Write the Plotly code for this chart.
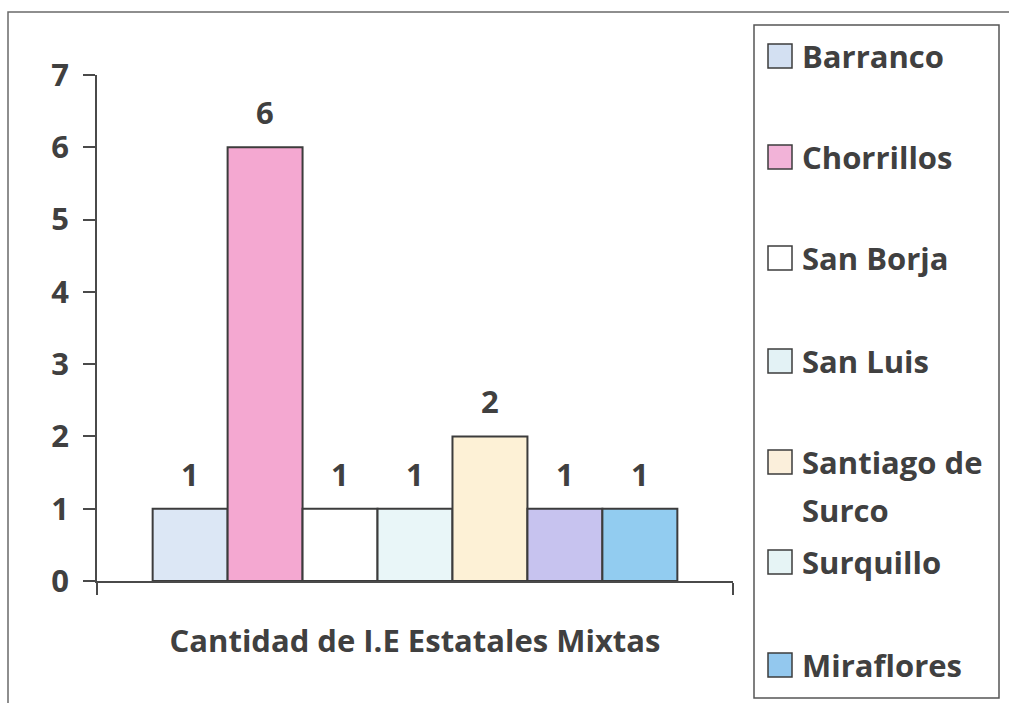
import plotly.graph_objects as go

# Data
group_label = "Cantidad de I.E Estatales Mixtas"
districts = ["Barranco", "Chorrillos", "San Borja", "San Luis",
             "Santiago de Surco", "Surquillo", "Miraflores"]
counts = [1, 6, 1, 1, 2, 1, 1]
bar_colors = ["#dce7f5", "#f4a8d1", "#ffffff", "#e9f6f8",
              "#fdf1d6", "#c7c3ef", "#92ccf0"]
swatch_colors = ["#d3e0f2", "#f2b3d8", "#ffffff", "#e3f2f5",
                 "#fbefdb", "#e6f4f5", "#93c8ee"]
y_ticks = [0, 1, 2, 3, 4, 5, 6, 7]

# Page / plot geometry (pixels)
W, H = 1009, 703
L, R, T, B = 97, 733, 75, 581
BARGAP = 0.175
TXT = "#404040"
LINE = "#4a4a4a"
FONT = "Open Sans"


def px_x(px):
    return (px - L) / (R - L)


def px_y(py):
    return (B - py) / (B - T)


fig = go.Figure()
for name, val, col in zip(districts, counts, bar_colors):
    fig.add_trace(go.Bar(
        x=[group_label], y=[val], name=name,
        marker=dict(color=col, line=dict(color="#3c3c3c", width=2)),
        showlegend=False,
    ))

# value labels above each bar
n = len(districts)
gw = 1 - BARGAP
annotations = []
for i, val in enumerate(counts):
    xc = -gw / 2 + (i + 0.5) * gw / n
    annotations.append(dict(
        x=xc, y=val, xref="x", yref="y", text=str(val), showarrow=False,
        yanchor="middle", yshift=35,
        font=dict(family=FONT, size=31, color=TXT, weight="bold"),
    ))

shapes = [
    # outer frame
    dict(type="rect", xref="paper", yref="paper",
         x0=px_x(8), x1=px_x(1015), y0=px_y(12), y1=px_y(712),
         line=dict(color="#6a6a6a", width=1.5), layer="below"),
    # legend frame
    dict(type="rect", xref="paper", yref="paper",
         x0=px_x(754), x1=px_x(999), y0=px_y(25), y1=px_y(698),
         line=dict(color="#555555", width=1.5)),
]

# legend rows
row_y = [56, 157, 258, 361, 462, 562, 665]
for name, col, ry in zip(districts, swatch_colors, row_y):
    shapes.append(dict(
        type="rect", xref="paper", yref="paper",
        x0=px_x(768), x1=px_x(792), y0=px_y(ry + 12), y1=px_y(ry - 12),
        fillcolor=col, line=dict(color="#3c3c3c", width=1.5)))
    lines = ["Santiago de", "Surco"] if name == "Santiago de Surco" else [name]
    for k, ln in enumerate(lines):
        annotations.append(dict(
            x=px_x(800), y=px_y(ry + 48 * k), xref="paper", yref="paper",
            text=ln, showarrow=False, xanchor="left", yanchor="middle",
            font=dict(family=FONT, size=31, color=TXT, weight="bold"),
        ))

fig.update_layout(
    width=W, height=H,
    margin=dict(l=L, r=W - R, t=T, b=H - B),
    paper_bgcolor="white", plot_bgcolor="white",
    barmode="group", bargap=BARGAP, bargroupgap=0,
    annotations=annotations, shapes=shapes,
    xaxis=dict(
        type="category", showline=True, linecolor=LINE, linewidth=1.5,
        ticks="outside", tickson="boundaries", ticklen=12, tickwidth=1.5,
        tickcolor=LINE, showgrid=False, zeroline=False,
        ticklabelstandoff=32,
        tickfont=dict(family=FONT, size=31, color=TXT, weight="bold"),
    ),
    yaxis=dict(
        range=[0, 7], tickvals=y_ticks, showline=True, linecolor=LINE,
        linewidth=1.5, ticks="outside", ticklen=12, tickwidth=1.5,
        tickcolor=LINE, showgrid=False, zeroline=False,
        ticklabelstandoff=8,
        tickfont=dict(family=FONT, size=31, color=TXT, weight="bold"),
    ),
)

fig.write_html("out.html")
